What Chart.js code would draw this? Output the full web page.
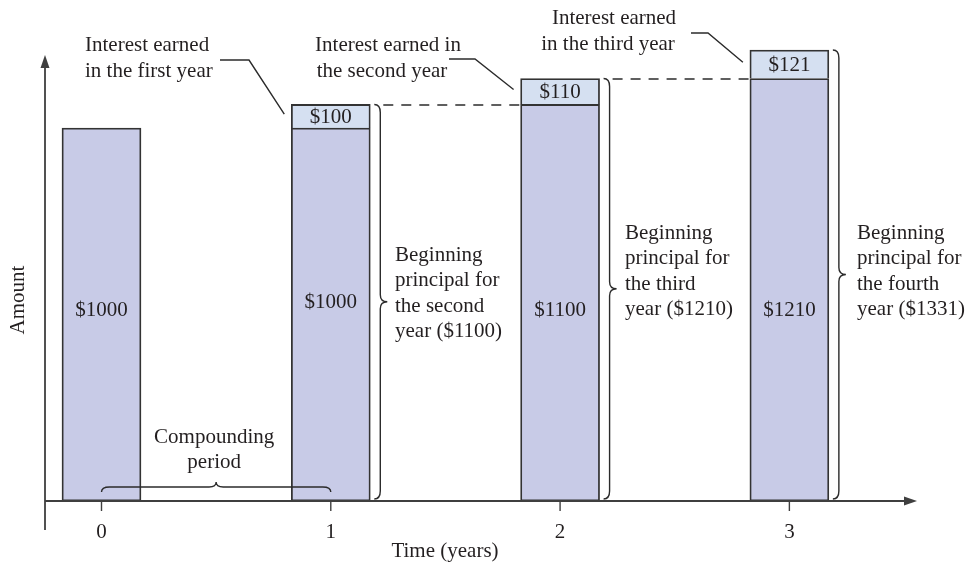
<!DOCTYPE html>
<html>
<head>
<meta charset="utf-8">
<script src="https://cdn.jsdelivr.net/npm/chart.js@4/dist/chart.umd.min.js"></script>
<style>
  html, body { margin: 0; padding: 0; background: #fff; }
  canvas { display: block; }
</style>
</head>
<body>
<canvas id="c" width="973" height="567"></canvas>
<script>
// Compound interest at 10% per year on $1000
const years = [0, 1, 2, 3];
const tickLabels = ['0', '1', '2', '3'];
const principal = [1000, 1000, 1100, 1210];
const interest = [null, 100, 110, 121];
const nextPrincipal = [1100, 1210, 1331];
const interestNotes = [
  ['Interest earned', 'in the first year'],
  ['Interest earned in', 'the second year'],
  ['Interest earned', 'in the third year']
];
const ordinals = ['second', 'third', 'fourth'];

const FONT = '21px "Liberation Serif", "Times New Roman", serif';
const INK = '#231f20';
const AXIS = '#3f3f3f';

function arrowHead(ctx, tx, ty, dir) {
  ctx.beginPath();
  if (dir === 'up') {
    ctx.moveTo(tx, ty); ctx.lineTo(tx - 4.5, ty + 13); ctx.lineTo(tx + 4.5, ty + 13);
  } else {
    ctx.moveTo(tx, ty); ctx.lineTo(tx - 13, ty - 4.5); ctx.lineTo(tx - 13, ty + 4.5);
  }
  ctx.closePath();
  ctx.fill();
}

// right-facing curly brace spanning y1..y2 at x
function vBrace(ctx, x, y1, y2) {
  const ym = (y1 + y2) / 2, h = 6, t = 7;
  ctx.beginPath();
  ctx.moveTo(x - h, y1);
  ctx.quadraticCurveTo(x, y1, x, y1 + 8);
  ctx.lineTo(x, ym - 7);
  ctx.quadraticCurveTo(x, ym, x + t, ym);
  ctx.quadraticCurveTo(x, ym, x, ym + 7);
  ctx.lineTo(x, y2 - 8);
  ctx.quadraticCurveTo(x, y2, x - h, y2);
  ctx.stroke();
}

// upward curly brace spanning x1..x2 at y
function hBrace(ctx, x1, x2, y) {
  const xm = (x1 + x2) / 2;
  ctx.beginPath();
  ctx.moveTo(x1, y + 5);
  ctx.quadraticCurveTo(x1, y, x1 + 8, y);
  ctx.lineTo(xm - 7, y);
  ctx.quadraticCurveTo(xm, y, xm, y - 5);
  ctx.quadraticCurveTo(xm, y, xm + 7, y);
  ctx.lineTo(x2 - 8, y);
  ctx.quadraticCurveTo(x2, y, x2, y + 5);
  ctx.stroke();
}

const leaderStarts = [[220, 249, 60], [449, 475, 59], [691, 708, 33]];
const notePos = [
  { x: 85, y: 45, align: 'left', dx: [0, 0] },
  { x: 388, y: 45, align: 'center', dx: [0, -6] },
  { x: 614, y: 18, align: 'center', dx: [0, -6] }
];
const principalNoteX = [395, 625, 857];
const principalNoteY = [255, 233, 233];

const annotate = {
  id: 'annotate',
  afterDatasetsDraw(chart) {
    const ctx = chart.ctx;
    const xs = chart.scales.x, ys = chart.scales.y;
    const m0 = chart.getDatasetMeta(0).data;
    const m1 = chart.getDatasetMeta(1).data;
    const axisY = ys.bottom, axisX = xs.left;
    ctx.save();
    ctx.font = FONT;
    ctx.fillStyle = INK;
    ctx.textBaseline = 'middle';

    // value labels inside bars
    ctx.textAlign = 'center';
    principal.forEach((v, i) => {
      const yPix = i === 1 ? 302 : 310;
      ctx.fillText('$' + v, m0[i].x, yPix);
    });
    interest.forEach((v, i) => {
      if (v == null) return;
      const bar = m1[i];
      ctx.fillText('$' + v, bar.x, (bar.y + bar.base) / 2 + 1);
    });

    // braces, dashed guides and notes
    ctx.strokeStyle = '#2b2b2b';
    ctx.lineWidth = 1.4;
    for (let i = 1; i < years.length; i++) {
      const top = m1[i].y, right = m0[i].x + m0[i].width / 2;
      const bx = right + 10;
      vBrace(ctx, bx, top, axisY - 2);
      // principal note
      ctx.textAlign = 'left';
      const lines = ['Beginning', 'principal for', 'the ' + ordinals[i - 1], 'year ($' + nextPrincipal[i - 1] + ')'];
      lines.forEach((s, k) => ctx.fillText(s, principalNoteX[i - 1], principalNoteY[i - 1] + k * 25.5));
      // dashed guide to the next bar
      if (i < years.length - 1) {
        const nextLeft = m0[i + 1].x - m0[i + 1].width / 2;
        ctx.save();
        ctx.setLineDash([10, 8]);
        ctx.beginPath();
        ctx.moveTo(bx + 3, top + 0.5);
        ctx.lineTo(nextLeft, top + 0.5);
        ctx.stroke();
        ctx.restore();
      }
      // leader from interest note to interest segment
      const seg = m1[i];
      const [hx0, hx1, hy] = leaderStarts[i - 1];
      ctx.beginPath();
      ctx.moveTo(hx0, hy);
      ctx.lineTo(hx1, hy);
      ctx.lineTo(seg.x - seg.width / 2 - 7, (seg.y + seg.base) / 2 - 2);
      ctx.stroke();
      const np = notePos[i - 1];
      ctx.textAlign = np.align;
      interestNotes[i - 1].forEach((s, k) => ctx.fillText(s, np.x + np.dx[k], np.y + k * 26));
    }

    // compounding period brace
    hBrace(ctx, xs.getPixelForValue(years[0]), xs.getPixelForValue(years[1]), 487);
    ctx.textAlign = 'center';
    const cx = (xs.getPixelForValue(years[0]) + xs.getPixelForValue(years[1])) / 2;
    ctx.fillText('Compounding', cx - 2, 437);
    ctx.fillText('period', cx - 2, 462);

    // axes with arrows
    ctx.strokeStyle = AXIS;
    ctx.fillStyle = AXIS;
    ctx.lineWidth = 1.8;
    ctx.beginPath();
    ctx.moveTo(axisX, 530); ctx.lineTo(axisX, 62);
    ctx.moveTo(axisX, axisY); ctx.lineTo(xs.right - 8, axisY);
    ctx.stroke();
    arrowHead(ctx, axisX, 55, 'up');
    arrowHead(ctx, xs.right, axisY, 'right');
    ctx.lineWidth = 1.4;
    ctx.fillStyle = INK;
    years.forEach((yv, i) => {
      const px = xs.getPixelForValue(yv);
      ctx.beginPath();
      ctx.moveTo(px, axisY); ctx.lineTo(px, axisY + 10);
      ctx.stroke();
      ctx.fillText(tickLabels[i], px, 532);
    });
    ctx.fillText('Time (years)', 445, 551);
    ctx.save();
    ctx.translate(18, 300);
    ctx.rotate(-Math.PI / 2);
    ctx.fillText('Amount', 0, 0);
    ctx.restore();
    ctx.restore();
  }
};

new Chart(document.getElementById('c'), {
  type: 'bar',
  data: {
    datasets: [
      {
        label: 'Principal',
        data: years.map((x, i) => ({ x, y: principal[i] })),
        backgroundColor: '#c8cbe7',
        borderColor: '#333333',
        borderWidth: 1.8,
        borderSkipped: false,
        barThickness: 79,
        base: -583,
        clip: false
      },
      {
        label: 'Interest',
        data: years.map((x, i) => ({ x, y: interest[i] })),
        backgroundColor: '#d5e0f1',
        borderColor: '#333333',
        borderWidth: 1.8,
        borderSkipped: 'bottom',
        barThickness: 79,
        clip: false
      }
    ]
  },
  options: {
    responsive: false,
    animation: false,
    layout: { padding: { left: 45, right: 56, top: 50, bottom: 66 } },
    plugins: { legend: { display: false }, tooltip: { enabled: false } },
    scales: {
      x: { type: 'linear', display: false, stacked: true, offset: false, min: -0.2464, max: 3.5566 },
      y: { display: false, stacked: true, min: -583, max: 1331 }
    }
  },
  plugins: [annotate]
});
</script>
</body>
</html>
